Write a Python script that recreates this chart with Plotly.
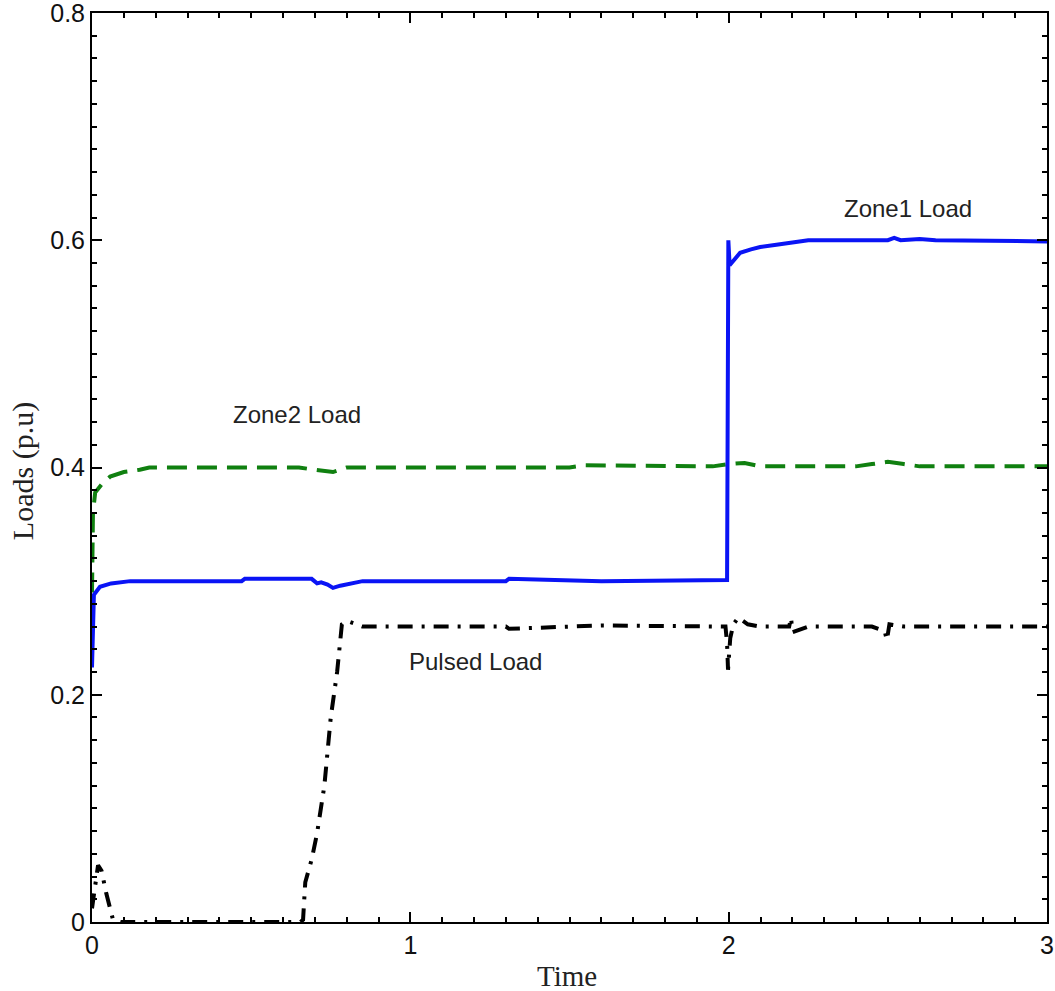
import plotly.graph_objects as go

# Zone1 load (blue, solid)
t_zone1 = [0.0, 0.002, 0.006, 0.025, 0.06, 0.12, 0.3, 0.47, 0.48, 0.69, 0.707, 0.72, 0.74, 0.757, 0.78, 0.8, 0.85,
           1.3, 1.31, 1.6, 1.995, 1.997, 1.999, 2.003, 2.036, 2.07, 2.099, 2.15, 2.193, 2.25, 2.5, 2.52, 2.54, 2.6, 2.65, 3.0]
v_zone1 = [0.224, 0.26, 0.288, 0.295, 0.298, 0.300, 0.300, 0.300, 0.302, 0.302, 0.298, 0.299, 0.297, 0.294, 0.296, 0.297, 0.300,
           0.300, 0.302, 0.300, 0.301, 0.45, 0.600, 0.578, 0.589, 0.592, 0.594, 0.596, 0.598, 0.600, 0.600, 0.602, 0.600, 0.601, 0.600, 0.599]

# Zone2 load (green, dashed)
t_zone2 = [0.0, 0.003, 0.01, 0.03, 0.057, 0.1, 0.15, 0.18, 0.5, 0.65, 0.7, 0.757, 0.8, 1.5, 1.55, 1.95, 2.0, 2.05, 2.1,
           2.4, 2.45, 2.5, 2.55, 2.6, 3.0]
v_zone2 = [0.29, 0.36, 0.378, 0.385, 0.392, 0.396, 0.398, 0.400, 0.400, 0.400, 0.398, 0.396, 0.400, 0.400, 0.402, 0.401, 0.403, 0.404, 0.401,
           0.401, 0.403, 0.405, 0.403, 0.401, 0.401]

# Pulsed load (black, dash-dot)
t_pulse = [0.0, 0.005, 0.012, 0.019, 0.03, 0.045, 0.066, 0.09, 0.3, 0.5, 0.655, 0.663, 0.67, 0.69, 0.707, 0.73, 0.75, 0.77, 0.785, 0.8,
           0.85, 1.3, 1.31, 1.6, 1.99, 1.995, 1.998, 2.005, 2.015, 2.03, 2.06, 2.1, 2.19, 2.196, 2.2, 2.25,
           2.45, 2.49, 2.497, 2.505, 2.55, 3.0]
v_pulse = [0.012, 0.022, 0.035, 0.050, 0.045, 0.025, 0.002, 0.0, 0.0, 0.0, 0.0, 0.002, 0.035, 0.055, 0.078, 0.12, 0.18, 0.22, 0.262, 0.265,
           0.260, 0.260, 0.258, 0.261, 0.260, 0.245, 0.222, 0.250, 0.262, 0.268, 0.262, 0.260, 0.260, 0.268, 0.255, 0.260,
           0.260, 0.256, 0.248, 0.262, 0.260, 0.260]

x_ticks = [0, 1, 2, 3]
y_ticks = [0, 0.2, 0.4, 0.6, 0.8]
y_tick_text = ["0", "0.2", "0.4", "0.6", "0.8"]

fig = go.Figure()
fig.add_trace(go.Scatter(x=t_zone2, y=v_zone2, mode="lines", name="Zone2 Load",
                         line=dict(color="#108010", width=4, dash="20px,10px")))
fig.add_trace(go.Scatter(x=t_zone1, y=v_zone1, mode="lines", name="Zone1 Load",
                         line=dict(color="#0a14f5", width=4)))
fig.add_trace(go.Scatter(x=t_pulse, y=v_pulse, mode="lines", name="Pulsed Load",
                         line=dict(color="black", width=4, dash="15px,9px,3px,9px")))

ann_font = dict(family="Liberation Sans, Arial", size=24, color="#222222")
fig.add_annotation(x=2.564, y=0.628, text="Zone1 Load", showarrow=False, font=ann_font)
fig.add_annotation(x=0.644, y=0.447, text="Zone2 Load", showarrow=False, font=ann_font)
fig.add_annotation(x=1.206, y=0.229, text="Pulsed Load", showarrow=False, font=ann_font)

# axis titles
fig.add_annotation(xref="paper", yref="paper", x=0.497, y=0, yshift=-54, xanchor="center", yanchor="middle",
                   text="Time", showarrow=False,
                   font=dict(family="Liberation Serif, Times New Roman", size=29, color="#222"))
fig.add_annotation(xref="paper", yref="paper", x=0, y=0.496, xshift=-69, xanchor="center", yanchor="middle",
                   text="Loads (p.u)", showarrow=False, textangle=-90,
                   font=dict(family="Liberation Serif, Times New Roman", size=30, color="#222"))

axis_common = dict(showgrid=False, zeroline=False, showline=True, linecolor="black", linewidth=2,
                   mirror="ticks", ticks="inside", tickcolor="black", tickwidth=2, ticklen=10, automargin=False,
                   ticklabeloverflow="allow",
                   tickfont=dict(family="Liberation Sans, Arial", size=25, color="#111"))

fig.update_xaxes(range=[0, 3], tickvals=x_ticks, ticktext=[str(v) for v in x_ticks],
                 minor=dict(dtick=0.1, ticks="inside", ticklen=5, tickcolor="black", tickwidth=2, showgrid=False),
                 **axis_common)
fig.update_yaxes(range=[0, 0.8], tickvals=y_ticks, ticktext=y_tick_text,
                 minor=dict(dtick=0.02, ticks="inside", ticklen=5, tickcolor="black", tickwidth=2, showgrid=False),
                 **axis_common)

fig.update_layout(width=1055, height=991, margin=dict(l=92, r=8, t=13, b=69),
                  plot_bgcolor="white", paper_bgcolor="white", showlegend=False)

fig.write_html("out.html")
